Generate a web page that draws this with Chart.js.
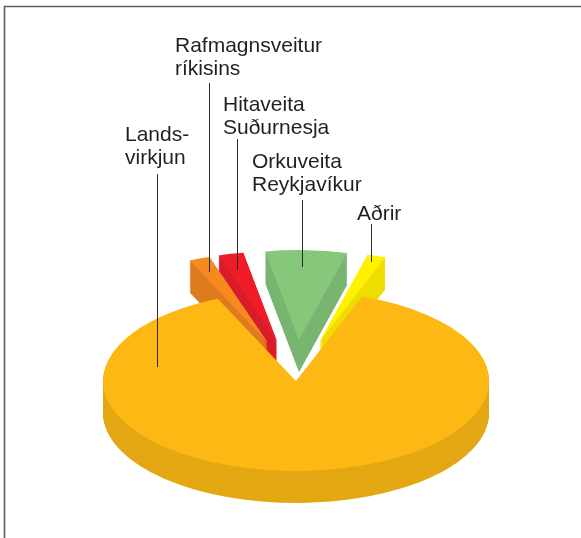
<!DOCTYPE html>
<html lang="is">
<head>
<meta charset="utf-8">
<style>
html,body{margin:0;padding:0;background:#fff;overflow:hidden}
canvas{display:block}
</style>
<script src="https://cdn.jsdelivr.net/npm/chart.js@4/dist/chart.umd.min.js"></script>
</head>
<body>
<canvas id="c" width="581" height="538"></canvas>
<script>
// Data
const categories = ['Landsvirkjun', 'Rafmagnsveitur ríkisins', 'Hitaveita Suðurnesja', 'Orkuveita Reykjavíkur', 'Aðrir'];
const shares = [87.8, 1.75, 2.1, 6.8, 1.55];
const labelLines = [['Lands-', 'virkjun'], ['Rafmagnsveitur', 'ríkisins'], ['Hitaveita', 'Suðurnesja'], ['Orkuveita', 'Reykjavíkur'], ['Aðrir']];

// Styles and layout
const topColors = ['#FDB813', '#F7891F', '#EE1C25', '#85C879', '#FFF200'];
const wallColors = ['#E3A813', '#DE7B1E', '#D91C2B', '#79B571', '#EEDD00'];
const explode = [0, 88, 88, 88, 88];
const explodeXFactor = 0.9;
const labelAnchors = [[125, 141], [175, 52], [223, 111], [252, 168], [357, 220]];
const leaderLines = [[157, 174, 367], [209, 83, 272], [237, 139, 270], [302, 200, 267], [371, 224, 262]];
const drawOrder = [4, 3, 2, 1, 0];
const tilt = 0.466, depth = 32, labelLineGap = 23;

class Pie3DController extends Chart.PieController {
  draw() {
    const ctx = this.chart.ctx, arcs = this.getMeta().data;
    const plain = color => ({
      backgroundColor: color, borderColor: color, borderWidth: 0, borderAlign: 'center',
      borderJoinStyle: 'round', borderRadius: 0, circular: true, offset: 0, spacing: 0
    });
    drawOrder.forEach(i => {
      const arc = arcs[i], keep = arc.options;
      const mid = (arc.startAngle + arc.endAngle) / 2;
      const dx = Math.cos(mid) * explode[i] * explodeXFactor, dy = Math.sin(mid) * explode[i];
      const paint = (shift, color) => {
        arc.options = plain(color);
        ctx.save();
        ctx.translate(0, arc.y + shift);
        ctx.scale(1, tilt);
        ctx.translate(dx, dy - arc.y);
        arc.draw(ctx);
        ctx.restore();
      };
      for (let k = depth; k > 0; k--) paint(k, wallColors[i]);
      paint(0, topColors[i]);
      arc.options = keep;
    });
  }
}
Pie3DController.id = 'pie3d';
Pie3DController.overrides = Chart.PieController.overrides;
Chart.register(Pie3DController);

const frameAndLabels = {
  id: 'frameAndLabels',
  afterDraw(chart) {
    const ctx = chart.ctx;
    ctx.save();
    ctx.strokeStyle = '#5f5f5f';
    ctx.lineWidth = 1.6;
    ctx.beginPath();
    ctx.moveTo(4.5, 538); ctx.lineTo(4.5, 6.5); ctx.lineTo(581, 6.5);
    ctx.stroke();
    ctx.strokeStyle = '#2b2b2b';
    ctx.lineWidth = 1;
    leaderLines.forEach(([x, y0, y1]) => {
      ctx.beginPath();
      ctx.moveTo(x + .5, y0); ctx.lineTo(x + .5, y1);
      ctx.stroke();
    });
    ctx.fillStyle = '#231f20';
    ctx.font = '21px "Liberation Sans", Arial, sans-serif';
    ctx.textBaseline = 'alphabetic';
    labelLines.forEach((lines, i) => lines.forEach((t, j) => {
      ctx.fillText(t, labelAnchors[i][0], labelAnchors[i][1] + j * labelLineGap);
    }));
    ctx.restore();
  }
};

new Chart(document.getElementById('c'), {
  type: 'pie3d',
  data: { labels: categories, datasets: [{ data: shares, backgroundColor: topColors, borderWidth: 0 }] },
  options: {
    responsive: false,
    animation: false,
    events: [],
    rotation: 20,
    radius: 193,
    layout: { padding: { left: 11, top: 224, right: 0, bottom: 0 } },
    plugins: { legend: { display: false }, tooltip: { enabled: false } }
  },
  plugins: [frameAndLabels]
});
</script>
</body>
</html>
